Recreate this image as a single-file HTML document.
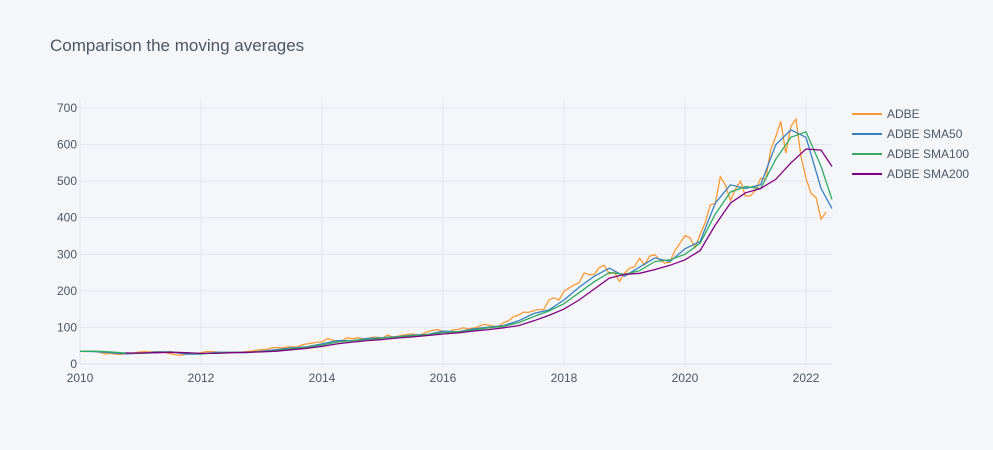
<!DOCTYPE html>
<html><head><meta charset="utf-8"><style>
html,body{margin:0;padding:0;background:#F5F6F9;}
svg{display:block;font-family:"Liberation Sans",sans-serif;}
</style></head><body>
<svg id="chart" width="993" height="450" xmlns="http://www.w3.org/2000/svg">
<rect width="993" height="450" fill="#F5F6F9"/>
<text x="50" y="51" font-size="17" fill="#4D5663">Comparison the moving averages</text>
<g id="grid"></g><g id="series"></g><g id="legend"></g>
</svg>
<script>
const xTicks=[2010,2012,2014,2016,2018,2020,2022];
const yTicks=[0,100,200,300,400,500,600,700];
const priceStart=2010;
const price=[35,34,35,34,32,27,29,27,26,28,28,31,
33,34,33,34,34,31,28,25,24,27,28,28,
31,34,34,33,31,32,31,31,32,34,35,38,
39,40,44,45,44,46,47,46,52,55,57,60,
60,69,66,62,64,72,69,72,69,70,73,73,
71,79,74,76,79,81,82,79,82,89,92,94,
89,84,94,94,99,96,98,102,108,107,103,103,
113,118,130,134,142,141,146,149,149,175,181,175,
199,208,216,222,249,244,245,264,270,246,251,226,
248,262,266,289,271,295,299,285,276,278,310,330,
351,345,318,354,387,435,439,512,490,447,478,500,
459,460,475,508,505,586,622,664,576,650,670,567,
508,467,455,396,416];
const smaDates=[2010,2010.25,2010.5,2010.75,2011,2011.25,2011.5,2011.75,2012,2012.25,2012.5,2012.75,2013,2013.25,2013.5,2013.75,2014,2014.25,2014.5,2014.75,2015,2015.25,2015.5,2015.75,2016,2016.25,2016.5,2016.75,2017,2017.25,2017.5,2017.75,2018,2018.25,2018.5,2018.75,2019,2019.25,2019.5,2019.75,2020,2020.25,2020.5,2020.75,2021,2021.25,2021.5,2021.75,2022,2022.25,2022.43];
const sma50=[35,34,31,28,29,33,33,27,27,32,32,31,35,39,44,47,55,64,64,70,72,75,79,81,90,88,96,101,105,118,138,148,175,210,240,262,240,265,290,280,315,335,440,490,480,490,600,640,620,480,425];
const sma100=[35,35,33,30,29,31,33,30,28,30,32,32,34,37,42,46,52,60,64,67,71,74,77,80,86,88,93,99,103,113,130,145,165,195,225,250,245,255,280,285,300,330,410,470,485,480,560,620,635,540,450];
const sma200=[null,null,null,30,30,31,32,31,29,29,31,32,33,35,39,43,48,55,60,64,67,71,74,78,82,85,90,94,99,105,118,133,150,175,205,235,245,248,258,270,285,310,380,440,468,480,505,550,588,585,540];
const NS="http://www.w3.org/2000/svg";
const X=t=>80+(t-2010)*60.5, Y=v=>364-v*256/700;
function mk(tag,attrs,parent){const e=document.createElementNS(NS,tag);for(const k in attrs)e.setAttribute(k,attrs[k]);parent.appendChild(e);return e;}
const grid=document.getElementById('grid');
yTicks.forEach(v=>{
 const l=mk('line',{x1:80,x2:832,y1:Y(v),y2:Y(v),stroke:v===0?'#D9DEE7':'#E1E5ED','stroke-width':1},grid);
 
 const t=mk('text',{x:77,y:Y(v)+4,'text-anchor':'end','font-size':12,fill:'#4D5663'},grid);t.textContent=v;
 
});
xTicks.forEach(v=>{
 const l=mk('line',{x1:X(v),x2:X(v),y1:100,y2:364,stroke:'#E1E5ED','stroke-width':1},grid);
 
 const t=mk('text',{x:X(v),y:382,'text-anchor':'middle','font-size':12,fill:'#4D5663'},grid);t.textContent=v;
 
});
const ser=document.getElementById('series');
function line(ts,vs,color,name){
 let d='';ts.forEach((t,i)=>{if(vs[i]==null)return;d+=(d?'L':'M')+X(t).toFixed(1)+','+Y(vs[i]).toFixed(1);});
 const p=mk('path',{d:d,fill:'none',stroke:color,'stroke-width':1.3},ser);
 
}
line(price.map((_,i)=>priceStart+i/12),price,'#FF9933','adbe-line');
line(smaDates,sma50,'rgb(55,128,191)','sma50-line');
line(smaDates,sma100,'rgb(50,171,96)','sma100-line');
line(smaDates,sma200,'rgb(128,0,128)','sma200-line');
const leg=document.getElementById('legend');
[['ADBE','#FF9933'],['ADBE SMA50','rgb(55,128,191)'],['ADBE SMA100','rgb(50,171,96)'],['ADBE SMA200','rgb(128,0,128)']].forEach((e,i)=>{
 const y=114+i*20;
 const g=mk('g',{},leg);
 mk('line',{x1:852,x2:882,y1:y,y2:y,stroke:e[1],'stroke-width':2},g);
 const t=mk('text',{x:887,y:y+4,'font-size':12,fill:'#4D5663'},g);t.textContent=e[0];
});
</script>
</body></html>
